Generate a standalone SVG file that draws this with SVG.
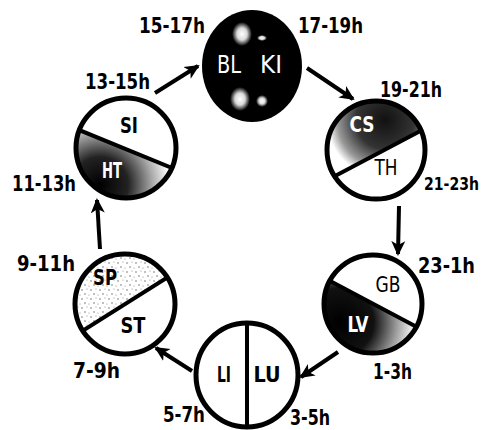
<svg xmlns="http://www.w3.org/2000/svg" width="491" height="430" viewBox="0 0 491 430">
<style>
.ring{fill:none;stroke:#000;stroke-width:5}
.div{stroke:#000;stroke-width:4}
.t{font-family:"DejaVu Sans Condensed","DejaVu Sans",sans-serif;font-weight:bold;font-size:21px;fill:#000}
.n{font-family:"DejaVu Sans Condensed","DejaVu Sans",sans-serif;font-weight:bold;font-size:21px;fill:#000;text-anchor:middle}
.w{fill:#fff}
.arr{stroke:#000;stroke-width:4;fill:none;marker-end:url(#ah)}
</style>
<defs>
<marker id="ah" markerUnits="userSpaceOnUse" markerWidth="16" markerHeight="16" refX="13" refY="7" orient="auto" viewBox="0 0 16 14">
<path d="M0,0 L15,7 L0,14 L4,7 Z" fill="#000"/>
</marker>
<radialGradient id="blob"><stop offset="0" stop-color="#fff"/><stop offset="0.5" stop-color="#fff" stop-opacity="0.85"/><stop offset="1" stop-color="#fff" stop-opacity="0"/></radialGradient>
<radialGradient id="gCS" cx="385" cy="120" r="58" gradientUnits="userSpaceOnUse"><stop offset="0" stop-color="#111"/><stop offset="0.5" stop-color="#333"/><stop offset="0.82" stop-color="#999"/><stop offset="1" stop-color="#fff"/></radialGradient>
<radialGradient id="gHT" cx="100" cy="185" r="70" gradientUnits="userSpaceOnUse"><stop offset="0" stop-color="#000"/><stop offset="0.4" stop-color="#222"/><stop offset="0.75" stop-color="#aaa"/><stop offset="1" stop-color="#fff"/></radialGradient>
<radialGradient id="gLV" cx="340" cy="322" r="75" gradientUnits="userSpaceOnUse"><stop offset="0" stop-color="#000"/><stop offset="0.45" stop-color="#111"/><stop offset="0.75" stop-color="#999"/><stop offset="1" stop-color="#fff"/></radialGradient>
<pattern id="dots" width="9" height="9" patternUnits="userSpaceOnUse">
<rect width="9" height="9" fill="#fff"/>
<circle cx="1" cy="2" r="0.7" fill="#555"/><circle cx="6" cy="1" r="0.5" fill="#777"/><circle cx="4" cy="6" r="0.7" fill="#555"/><circle cx="8" cy="7" r="0.5" fill="#777"/>
</pattern>
<clipPath id="cCS"><circle cx="376" cy="150" r="49"/></clipPath>
<clipPath id="cGB"><circle cx="373" cy="304" r="49"/></clipPath>
<clipPath id="cSI"><circle cx="126" cy="148" r="50"/></clipPath>
<clipPath id="cSP"><circle cx="125" cy="304" r="50"/></clipPath>
</defs>

<g id="connectors">
<line class="arr" x1="155" y1="93" x2="198" y2="66"/>
<line class="arr" x1="307" y1="68" x2="353" y2="99"/>
<line class="arr" x1="399" y1="206" x2="398" y2="254"/>
<line class="arr" x1="338" y1="352" x2="301" y2="377"/>
<line class="arr" x1="192" y1="371" x2="156" y2="348"/>
<line class="arr" x1="100" y1="249" x2="97" y2="200"/>
</g>

<g id="node-BLKI">
<ellipse cx="252" cy="66" rx="50" ry="56" fill="#000"/>
<ellipse cx="242" cy="34" rx="10" ry="12" fill="url(#blob)"/>
<ellipse cx="262" cy="38" rx="5" ry="3" fill="url(#blob)"/>
<ellipse cx="240" cy="99" rx="10" ry="12" fill="url(#blob)"/>
<ellipse cx="262" cy="101" rx="6" ry="6" fill="url(#blob)"/>
<text class="n w" x="229" y="73" textLength="24" lengthAdjust="spacingAndGlyphs" style="font-weight:normal;font-size:24px">BL</text>
<text class="n w" x="271" y="73" textLength="22" lengthAdjust="spacingAndGlyphs" style="font-weight:normal;font-size:24px">KI</text>
</g>

<g id="node-CSTH">
<g clip-path="url(#cCS)">
<polygon points="300,194.5 460,110 460,95 300,95" fill="url(#gCS)"/>
<line class="div" x1="300" y1="194.5" x2="460" y2="110"/>
</g>
<circle class="ring" cx="376" cy="150" r="49"/>
<text class="n w" x="362" y="132" textLength="25" lengthAdjust="spacingAndGlyphs">CS</text>
<text class="n" x="386" y="175" textLength="23" lengthAdjust="spacingAndGlyphs" style="font-weight:normal">TH</text>
</g>

<g id="node-GBLV">
<g clip-path="url(#cGB)">
<polygon points="310,270.4 440,339.2 440,360 310,360" fill="url(#gLV)"/>
<line class="div" x1="310" y1="270.4" x2="440" y2="339.2"/>
</g>
<circle class="ring" cx="373" cy="304" r="49"/>
<text class="n" x="388" y="292" textLength="25" lengthAdjust="spacingAndGlyphs" style="font-weight:normal">GB</text>
<text class="n w" x="358" y="332" textLength="21" lengthAdjust="spacingAndGlyphs">LV</text>
</g>

<g id="node-LILU">
<ellipse class="ring" cx="247" cy="375" rx="51" ry="52"/>
<line class="div" x1="247" y1="323" x2="247" y2="428"/>
<text class="n" x="224" y="382" textLength="14" lengthAdjust="spacingAndGlyphs">LI</text>
<text class="n" x="267" y="382" textLength="27" lengthAdjust="spacingAndGlyphs">LU</text>
</g>

<g id="node-SPST">
<g clip-path="url(#cSP)">
<polygon points="60,345.1 190,263.2 190,250 60,250" fill="url(#dots)"/>
<line class="div" x1="60" y1="345.1" x2="190" y2="263.2"/>
</g>
<circle class="ring" cx="125" cy="304" r="50"/>
<text class="n" x="105" y="285" textLength="24" lengthAdjust="spacingAndGlyphs">SP</text>
<text class="n" x="133" y="333" textLength="25" lengthAdjust="spacingAndGlyphs">ST</text>
</g>

<g id="node-SIHT">
<g clip-path="url(#cSI)">
<polygon points="60,122.2 190,175.4 190,205 60,205" fill="url(#gHT)"/>
<line class="div" x1="60" y1="122.2" x2="190" y2="175.4"/>
</g>
<circle class="ring" cx="126" cy="148" r="50"/>
<text class="n" x="129" y="133" textLength="18" lengthAdjust="spacingAndGlyphs">SI</text>
<text class="n w" x="112" y="178" textLength="20" lengthAdjust="spacingAndGlyphs">HT</text>
</g>

<g id="labels">
<text class="t" x="139" y="33" textLength="66" lengthAdjust="spacingAndGlyphs">15-17h</text>
<text class="t" x="298" y="33" textLength="65" lengthAdjust="spacingAndGlyphs">17-19h</text>
<text class="t" x="85" y="89" textLength="65" lengthAdjust="spacingAndGlyphs">13-15h</text>
<text class="t" x="380" y="97" textLength="62" lengthAdjust="spacingAndGlyphs">19-21h</text>
<text class="t" x="12" y="191" textLength="64" lengthAdjust="spacingAndGlyphs">11-13h</text>
<text class="t" x="424" y="190" textLength="55" lengthAdjust="spacingAndGlyphs" style="font-size:18px">21-23h</text>
<text class="t" x="17" y="271" textLength="58" lengthAdjust="spacingAndGlyphs">9-11h</text>
<text class="t" x="418" y="273" textLength="57" lengthAdjust="spacingAndGlyphs">23-1h</text>
<text class="t" x="73" y="378" textLength="47" lengthAdjust="spacingAndGlyphs">7-9h</text>
<text class="t" x="373" y="379" textLength="39" lengthAdjust="spacingAndGlyphs">1-3h</text>
<text class="t" x="163" y="422" textLength="42" lengthAdjust="spacingAndGlyphs">5-7h</text>
<text class="t" x="290" y="425" textLength="40" lengthAdjust="spacingAndGlyphs">3-5h</text>
</g>
</svg>
